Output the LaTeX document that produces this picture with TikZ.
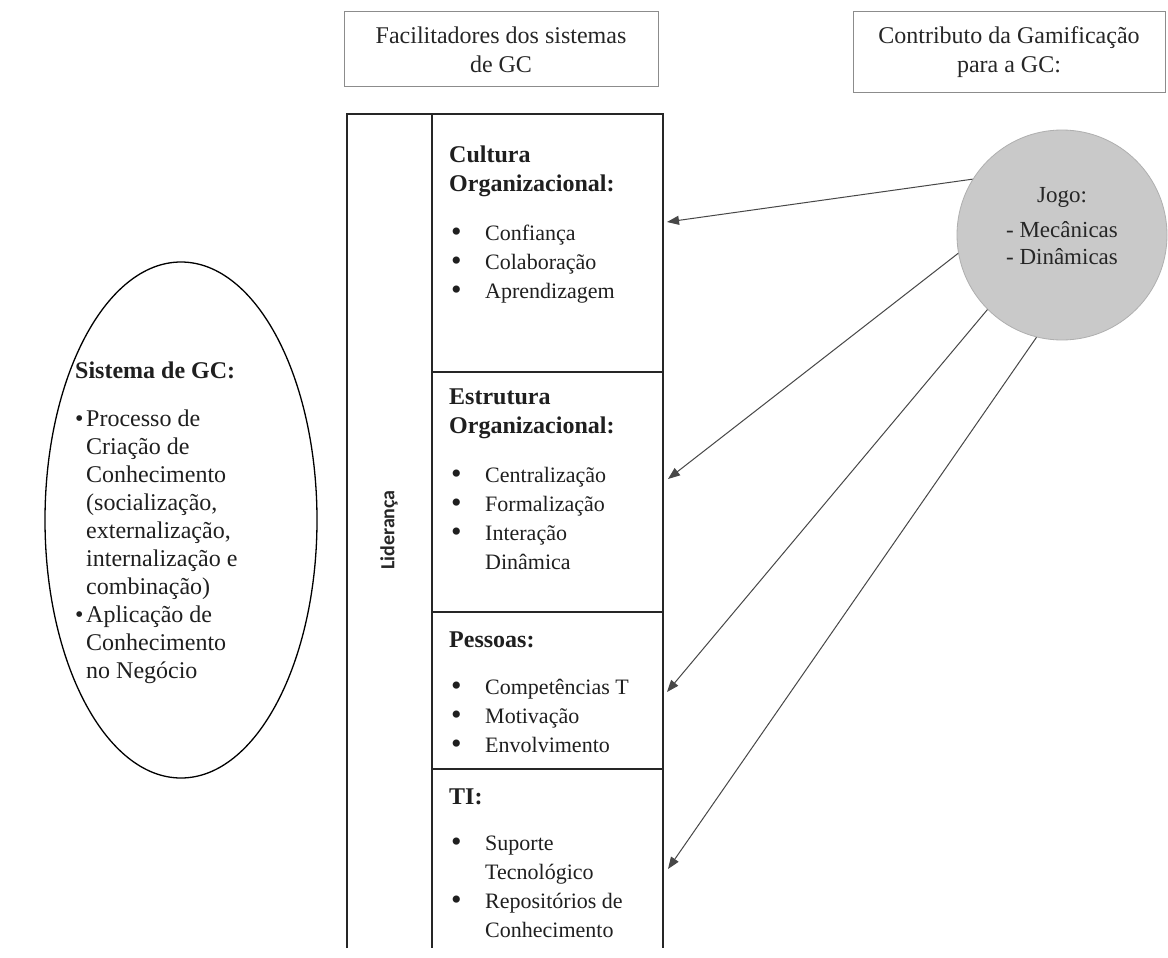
\documentclass[tikz,border=0pt]{standalone}
\usepackage{fontspec}
\setmainfont{Liberation Serif}
\newfontfamily\lidfont{Carlito}
\usetikzlibrary{arrows.meta,shapes.geometric}

% heading and item font sizes
\newcommand\hdfont{\fontsize{24}{29}\selectfont\bfseries}
\newcommand\itfont{\fontsize{22}{29}\selectfont}
% a large round bullet
\newcommand\bigbul{{\fontsize{30}{29}\selectfont\raisebox{-1.5pt}{\textbullet}}}
% bullet item with a hanging indent
\newcommand\bul[1]{\hangindent=36pt\hangafter=1\noindent\makebox[36pt][l]{\hspace{2pt}\bigbul}#1\par}
% tight bullet for the ellipse text
\newcommand\ebul[1]{\hangindent=11pt\hangafter=1\noindent\makebox[11pt][l]{\textbullet}#1\par}
% top-aligned text block
\newcommand\blk[2]{\begin{minipage}[t]{#1}\raggedright\parindent=0pt #2\end{minipage}}

\begin{document}
\begin{tikzpicture}[x=1pt,y=-1pt,
  frame/.style={draw=black!85, line width=1.6pt},
  hbox/.style={draw=black!45, line width=1pt, align=center,
               font=\fontsize{24}{29}\selectfont, text=black!85},
  cell/.style={anchor=base west, inner sep=0pt, text=black!88},
  link/.style={draw=black!72, line width=1pt,
               -{Triangle[length=12pt,width=9pt]}},
]
\useasboundingbox (0,0) rectangle (1168,958);
\fill[white] (0,0) rectangle (1168,958);

% title boxes
\node[hbox, minimum width=314pt, minimum height=75pt] (fac) at (501,49.5)
  {Facilitadores dos sistemas\\de GC};
\node[hbox, minimum width=312pt, minimum height=81pt] (contr) at (1009,52.5)
  {Contributo da Gamificação\\para a GC:};

% table of enablers
\draw[frame] (347,948) -- (347,114) -- (663,114) -- (663,948);
\draw[frame] (432,114) -- (432,948);
\draw[frame] (432,372) -- (663,372);
\draw[frame] (432,612) -- (663,612);
\draw[frame] (432,769) -- (663,769);

\node[rotate=90, inner sep=0pt, text=black!85,
      font=\lidfont\fontsize{20}{22}\selectfont\bfseries] (lid) at (389,530) {Liderança};

\node[cell] (cult) at (449,162) {\blk{220pt}{{\hdfont Cultura\\Organizacional:\par}\vspace{20pt}
  {\itfont\bul{Confiança}\bul{Colaboração}\bul{Aprendizagem}}}};
\node[cell] (estr) at (449,404) {\blk{220pt}{{\hdfont Estrutura\\Organizacional:\par}\vspace{20pt}
  {\itfont\bul{Centralização}\bul{Formalização}\bul{Interação\newline Dinâmica}}}};
\node[cell] (pess) at (449,647) {\blk{220pt}{{\hdfont Pessoas:\par}\vspace{18pt}
  {\itfont\bul{Competências T}\bul{Motivação}\bul{Envolvimento}}}};
\node[cell] (ti) at (449,804) {\blk{220pt}{{\hdfont TI:\par}\vspace{17pt}
  {\itfont\bul{Suporte\newline Tecnológico}\bul{Repositórios de\newline Conhecimento}}}};

% knowledge management system
\node[draw=black, line width=1.3pt, ellipse, minimum width=272pt, minimum height=516pt,
      inner sep=0pt] (sis) at (181,520) {};
\node[cell] (sistxt) at (75,378) {\blk{240pt}{{\fontsize{24}{28}\selectfont\bfseries Sistema de GC:\par}\vspace{20pt}
  {\fontsize{24}{28}\selectfont
   \ebul{Processo de\newline Criação de\newline Conhecimento\newline (socialização,\newline
         externalização,\newline internalização e\newline combinação)}
   \ebul{Aplicação de\newline Conhecimento\newline no Negócio}}}};

% game circle
\node[circle, fill={rgb,255:red,201;green,201;blue,201},
      draw={rgb,255:red,175;green,175;blue,175}, line width=0.8pt,
      minimum size=210pt, inner sep=0pt] (jogo) at (1062,235) {};
\node[align=center, text=black!85, font=\fontsize{23}{27}\selectfont] (jogotxt) at (1062,226)
  {Jogo:\\[8pt]- Mecânicas\\- Dinâmicas};

% arrow targets on the table edge
\coordinate (t1) at (667,222);
\coordinate (t2) at (668,479);
\coordinate (t3) at (667,692);
\coordinate (t4) at (668,869);

\draw[link] (jogo.148) -- (t1);
\draw[link] (jogo.190) -- (t2);
\draw[link] (jogo.225) -- (t3);
\draw[link] (jogo.256) -- (t4);
\end{tikzpicture}
\end{document}
